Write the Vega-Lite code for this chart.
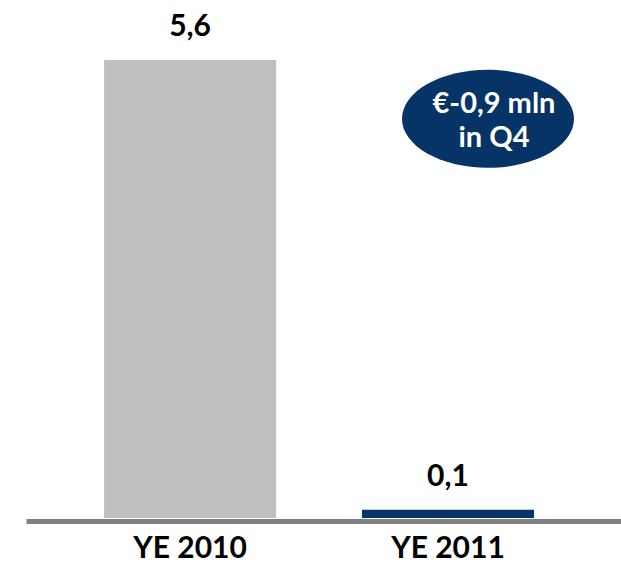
{
  "$schema": "https://vega.github.io/schema/vega-lite/v6.json",
  "width": 595,
  "height": 518,
  "padding": {"left": 26, "top": 0, "right": 0, "bottom": 45},
  "autosize": {"type": "none"},
  "config": {"view": {"stroke": null}, "font": "Lato"},
  "datasets": {
    "bars": [
      {"period": "YE 2010", "value": 5.6, "label": "5,6"},
      {"period": "YE 2011", "value": 0.1, "label": "0,1"}
    ],
    "note": [
      {"period": "YE 2011", "value": 4.88, "text": ["€-0,9 mln", "in Q4"]}
    ]
  },
  "encoding": {
    "x": {
      "field": "period",
      "type": "nominal",
      "sort": ["YE 2010", "YE 2011"],
      "scale": {"paddingInner": 0.333, "paddingOuter": 0.32, "align": 0.473},
      "axis": {
        "title": null,
        "labelAngle": 0,
        "ticks": false,
        "domainColor": "#808080",
        "domainWidth": 5,
        "offset": 3,
        "labelFontSize": 30,
        "labelFontWeight": "bold",
        "labelColor": "#000000",
        "labelPadding": 12,
        "labelFont": "Lato"
      }
    },
    "y": {
      "field": "value",
      "type": "quantitative",
      "scale": {"domain": [0, 6.333], "nice": false, "zero": true},
      "axis": null
    }
  },
  "layer": [
    {
      "data": {"name": "bars"},
      "mark": {"type": "bar"},
      "encoding": {
        "color": {
          "field": "period",
          "type": "nominal",
          "scale": {"domain": ["YE 2010", "YE 2011"], "range": ["#bfbfbf", "#063466"]},
          "legend": null
        }
      }
    },
    {
      "data": {"name": "bars"},
      "mark": {"type": "text", "baseline": "middle", "dy": -33, "fontSize": 30, "fontWeight": "bold", "color": "#000000"},
      "encoding": {"text": {"field": "label"}}
    },
    {
      "data": {"name": "note"},
      "mark": {
        "type": "point",
        "shape": "M-0.535,0 A1,0.57 0 1,0 1.465,0 A1,0.57 0 1,0 -0.535,0 Z",
        "size": 29584,
        "filled": true,
        "opacity": 1,
        "color": "#063466"
      }
    },
    {
      "data": {"name": "note"},
      "mark": {
        "type": "text",
        "dx": 46,
        "dy": -15,
        "baseline": "middle",
        "lineHeight": 34,
        "fontSize": 29,
        "fontWeight": "bold",
        "color": "#ffffff"
      },
      "encoding": {"text": {"field": "text"}}
    }
  ]
}
